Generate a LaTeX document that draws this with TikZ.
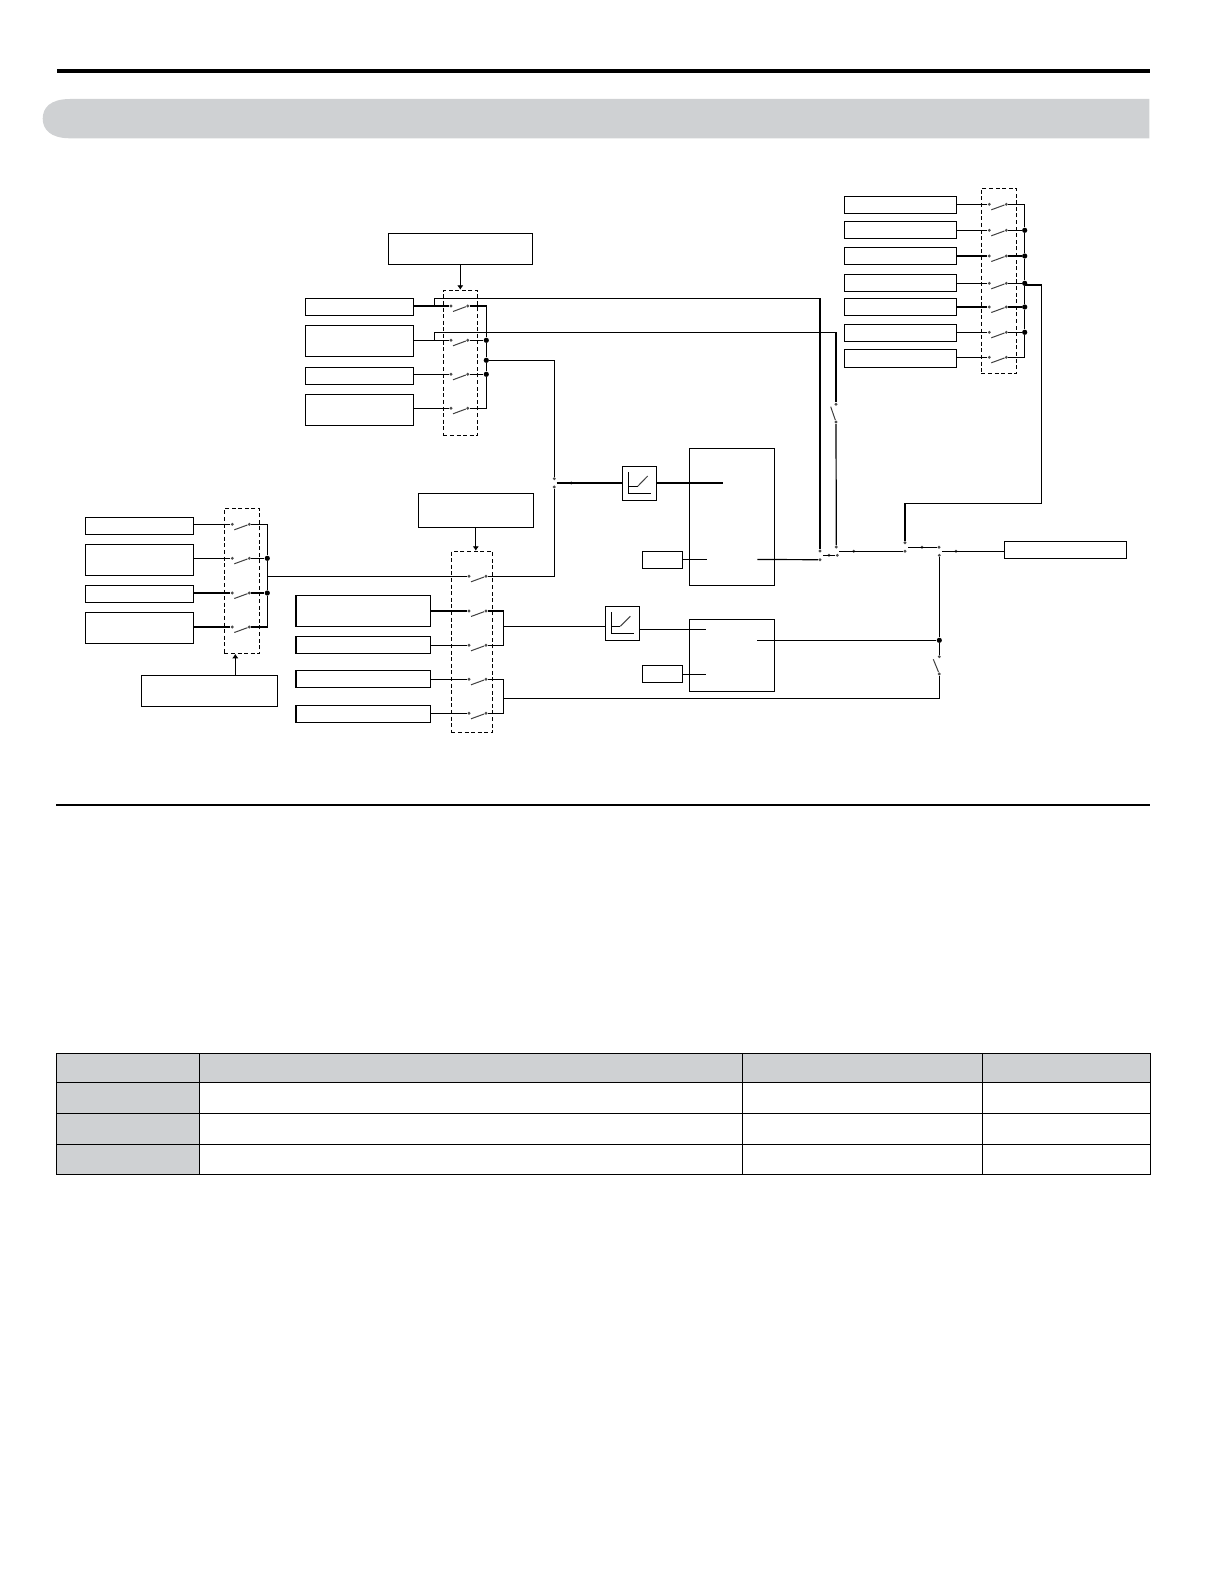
\documentclass[tikz,border=0pt]{standalone}
\usepackage{tikz}
\usetikzlibrary{arrows.meta}
\definecolor{bandgray}{HTML}{CFD1D3}

\begin{document}
\begin{tikzpicture}[x=0.5pt, y=-0.5pt,
    wire/.style ={line width=0.6pt},
    tip/.style ={-{Latex[length=2.2pt,width=3.2pt]}},
    blade/.style ={line width=0.5pt, black!75},
    box/.style ={rectangle, draw, line width=0.6pt, inner sep=0pt},
    boxa/.style ={box, minimum width=54pt},
    boxb/.style ={box, minimum width=67.15pt},
    boxc/.style ={box, minimum width=56.2pt},
    slim/.style ={minimum height=8.5pt},
    tall/.style ={minimum height=15.5pt},
    small/.style ={box, minimum width=20.2pt, minimum height=8.5pt},
    ramp/.style ={box, minimum size=17.1pt},
    selector/.style ={rectangle, draw, line width=0.6pt, dash pattern=on 2pt off 1.3pt, inner sep=0pt},
    contact/.style ={circle, fill=black!70, inner sep=0pt, minimum size=1.6pt},
    junction/.style ={circle, fill=black, inner sep=0pt, minimum size=2.6pt}]
   \useasboundingbox (0,0) rectangle (1224,1584);
   % page furniture
   \draw[line width=2pt] (57,70.7) -- (1150,70.7);
   \fill[bandgray] (1149.3,99) -- (70,99) .. controls (50,99) and (42.7,108) .. (42.7,118.65) .. controls (42.7,129) and (50,138.3) .. (70,138.3) -- (1149.3,138.3) -- cycle;
   \draw[line width=1pt] (56.3,804.7) -- (1150,804.7);

   % top selector
   \node[boxa, minimum width=72pt, tall] (tsel) at (460.3,248.8) {};
   \node[selector, minimum width=17.2pt, minimum height=72.5pt] (tdash) at (460.5,362.8) {};
   \node[boxa, slim] (t1) at (359.3,306.8) {};
   \node[boxa, tall] (t2) at (359.3,341.3) {};
   \node[boxa, slim] (t3) at (359.3,375.8) {};
   \node[boxa, tall] (t4) at (359.3,409.8) {};
   \node[contact] (t1l) at (451,306) {};
   \node[contact] (t1r) at (467.7,306) {};
   \node[contact] (t2l) at (451,340.3) {};
   \node[contact] (t2r) at (467.7,340.3) {};
   \node[contact] (t3l) at (451,374.3) {};
   \node[contact] (t3r) at (467.7,374.3) {};
   \node[contact] (t4l) at (451,408.3) {};
   \node[contact] (t4r) at (467.7,408.3) {};
   \node[junction] (tj1) at (486.3,340.3) {};
   \node[junction] (tj2) at (486.3,360.3) {};
   \node[junction] (tj3) at (486.3,374.3) {};
   \coordinate (tapa) at (434.3,306);
   \coordinate (tapb) at (434.3,340.3);
   \draw[wire, tip] (tsel.south) -- (tsel.south |- tdash.north);
   \draw[wire] (t1.east |- t1l) -- (t1l);
   \draw[wire] (t2.east |- t2l) -- (t2l);
   \draw[wire] (t3.east |- t3l) -- (t3l);
   \draw[wire] (t4.east |- t4l) -- (t4l);
   \draw[blade] ([shift={(2,5.5)}]t1l.center) -- (t1r);
   \draw[blade] ([shift={(2,5.5)}]t2l.center) -- (t2r);
   \draw[blade] ([shift={(2,5.5)}]t3l.center) -- (t3r);
   \draw[blade] ([shift={(2,5.5)}]t4l.center) -- (t4r);
   \draw[wire] (t1r) -| (tj1) -- (tj2) -- (tj3) |- (t4r);
   \draw[wire] (t2r) -- (tj1);
   \draw[wire] (t3r) -- (tj3);

   % left selector
   \node[boxa, minimum width=68pt, tall] (lsel) at (209.3,690.8) {};
   \node[selector, minimum width=17.7pt, minimum height=72.5pt] (ldash) at (242,580.8) {};
   \node[boxa, slim] (l1) at (139.3,525.8) {};
   \node[boxa, tall] (l2) at (139.3,559.8) {};
   \node[boxa, slim] (l3) at (139.3,593.8) {};
   \node[boxa, tall] (l4) at (139.3,627.8) {};
   \node[contact] (l1l) at (232.3,524.3) {};
   \node[contact] (l1r) at (249.3,524.3) {};
   \node[contact] (l2l) at (232.3,558.3) {};
   \node[contact] (l2r) at (249.3,558.3) {};
   \node[contact] (l3l) at (232.3,593) {};
   \node[contact] (l3r) at (249.3,593) {};
   \node[contact] (l4l) at (232.3,627) {};
   \node[contact] (l4r) at (249.3,627) {};
   \node[junction] (lj1) at (267.3,558.3) {};
   \node[junction] (lj2) at (267.3,593) {};
   \coordinate (lmid) at (267.3,576.3);
   \draw[wire, tip] ([xshift=13pt]lsel.north) -- ([xshift=-3.35pt]ldash.south);
   \draw[wire] (l1.east |- l1l) -- (l1l);
   \draw[wire] (l2.east |- l2l) -- (l2l);
   \draw[wire] (l3.east |- l3l) -- (l3l);
   \draw[wire] (l4.east |- l4l) -- (l4l);
   \draw[blade] ([shift={(2,5.5)}]l1l.center) -- (l1r);
   \draw[blade] ([shift={(2,5.5)}]l2l.center) -- (l2r);
   \draw[blade] ([shift={(2,5.5)}]l3l.center) -- (l3r);
   \draw[blade] ([shift={(2,5.5)}]l4l.center) -- (l4r);
   \draw[wire] (l1r) -| (lj1) -- (lj2) |- (l4r);
   \draw[wire] (l2r) -- (lj1);
   \draw[wire] (l3r) -- (lj2);

   % lower selector
   \node[boxa, minimum width=57.5pt, minimum height=17pt] (msel) at (475.8,510.3) {};
   \node[selector, minimum width=20.7pt, minimum height=90.5pt] (mdash) at (472,641.8) {};
   \node[boxb, tall] (m2) at (363.1,610.8) {};
   \node[boxb, slim] (m3) at (363.1,644.8) {};
   \node[boxb, slim] (m4) at (363.1,678.8) {};
   \node[boxb, slim] (m5) at (363.1,713.7) {};
   \node[contact] (m1l) at (469,576.3) {};
   \node[contact] (m1r) at (486,576.3) {};
   \node[contact] (m2l) at (469,611) {};
   \node[contact] (m2r) at (486,611) {};
   \node[contact] (m3l) at (469,645.3) {};
   \node[contact] (m3r) at (486,645.3) {};
   \node[contact] (m4l) at (469,679.3) {};
   \node[contact] (m4r) at (486,679.3) {};
   \node[contact] (m5l) at (469,713.3) {};
   \node[contact] (m5r) at (486,713.3) {};
   \coordinate (mmida) at (503.3,626.3);
   \coordinate (mmidb) at (503.3,698.3);
   \draw[wire, tip] (msel.south) -- (msel.south |- mdash.north);
   \draw[wire] (lmid) -- (m1l);
   \draw[wire] (m2.east |- m2l) -- (m2l);
   \draw[wire] (m3.east |- m3l) -- (m3l);
   \draw[wire] (m4.east |- m4l) -- (m4l);
   \draw[wire] (m5.east |- m5l) -- (m5l);
   \draw[blade] ([shift={(2,5.5)}]m1l.center) -- (m1r);
   \draw[blade] ([shift={(2,5.5)}]m2l.center) -- (m2r);
   \draw[blade] ([shift={(2,5.5)}]m3l.center) -- (m3r);
   \draw[blade] ([shift={(2,5.5)}]m4l.center) -- (m4r);
   \draw[blade] ([shift={(2,5.5)}]m5l.center) -- (m5r);
   \draw[wire] (m2r) -| (mmida) |- (m3r);
   \draw[wire] (m4r) -| (mmidb) |- (m5r);

   % right selector
   \node[selector, minimum width=17.7pt, minimum height=92.5pt] (rdash) at (999,280.8) {};
   \node[boxc, slim] (r1) at (900.5,204.8) {};
   \node[boxc, slim] (r2) at (900.5,229.8) {};
   \node[boxc, slim] (r3) at (900.5,255.8) {};
   \node[boxc, slim] (r4) at (900.5,282.8) {};
   \node[boxc, slim] (r5) at (900.5,306.8) {};
   \node[boxc, slim] (r6) at (900.5,332.8) {};
   \node[boxc, minimum height=9pt] (r7) at (900.5,358.3) {};
   \node[contact] (r1l) at (989.3,204.3) {};
   \node[contact] (r1r) at (1006.3,204.3) {};
   \node[contact] (r2l) at (989.3,230.3) {};
   \node[contact] (r2r) at (1006.3,230.3) {};
   \node[contact] (r3l) at (989.3,256) {};
   \node[contact] (r3r) at (1006.3,256) {};
   \node[contact] (r4l) at (989.3,283.3) {};
   \node[contact] (r4r) at (1006.3,283.3) {};
   \node[contact] (r5l) at (989.3,307) {};
   \node[contact] (r5r) at (1006.3,307) {};
   \node[contact] (r6l) at (989.3,332.3) {};
   \node[contact] (r6r) at (1006.3,332.3) {};
   \node[contact] (r7l) at (989.3,357.3) {};
   \node[contact] (r7r) at (1006.3,357.3) {};
   \node[junction] (rj1) at (1024.7,230.3) {};
   \node[junction] (rj2) at (1024.7,256) {};
   \node[junction] (rj3) at (1024.7,283.3) {};
   \node[junction] (rj4) at (1024.7,307) {};
   \node[junction] (rj5) at (1024.7,332.3) {};
   \coordinate (rtap) at (1024.7,285);
   \coordinate (rcorner) at (1041.5,503.3);
   \draw[wire] (r1.east |- r1l) -- (r1l);
   \draw[wire] (r2.east |- r2l) -- (r2l);
   \draw[wire] (r3.east |- r3l) -- (r3l);
   \draw[wire] (r4.east |- r4l) -- (r4l);
   \draw[wire] (r5.east |- r5l) -- (r5l);
   \draw[wire] (r6.east |- r6l) -- (r6l);
   \draw[wire] (r7.east |- r7l) -- (r7l);
   \draw[blade] ([shift={(2,5.5)}]r1l.center) -- (r1r);
   \draw[blade] ([shift={(2,5.5)}]r2l.center) -- (r2r);
   \draw[blade] ([shift={(2,5.5)}]r3l.center) -- (r3r);
   \draw[blade] ([shift={(2,5.5)}]r4l.center) -- (r4r);
   \draw[blade] ([shift={(2,5.5)}]r5l.center) -- (r5r);
   \draw[blade] ([shift={(2,5.5)}]r6l.center) -- (r6r);
   \draw[blade] ([shift={(2,5.5)}]r7l.center) -- (r7r);
   \draw[wire] (r1r) -| (rj1) -- (rj2) -- (rj3) -- (rj4) -- (rj5) |- (r7r);
   \draw[wire] (r2r) -- (rj1);
   \draw[wire] (r3r) -- (rj2);
   \draw[wire] (r4r) -- (rj3);
   \draw[wire] (r5r) -- (rj4);
   \draw[wire] (r6r) -- (rj5);

   % middle blocks
   \node[ramp] (rampa) at (639.5,483.5) {};
   \node[ramp] (rampb) at (622.5,623.3) {};
   \node[box, minimum width=42.7pt, minimum height=68.5pt] (blocka) at (732,516.8) {};
   \node[box, minimum width=42.7pt, minimum height=36pt] (blockb) at (732,655.3) {};
   \node[small] (sa) at (662.5,559.8) {};
   \node[small] (sb) at (662.5,673.8) {};
   \draw[wire] ([shift={(-11.2,-11.5)}]rampa.center) -- ++(0,21.3) -- ++(22.4,0);
   \draw[wire] ([shift={(-11.2,2.8)}]rampa.center) -- ++(9.4,0);
   \draw[blade] ([shift={(-1.8,2.8)}]rampa.center) -- ++(10,-10.3);
   \draw[wire] ([shift={(-11.2,-11.3)}]rampb.center) -- ++(0,21.3) -- ++(22.4,0);
   \draw[wire] ([shift={(-11.2,3)}]rampb.center) -- ++(9,0);
   \draw[blade] ([shift={(-2.2,3)}]rampb.center) -- ++(10,-10);
   \coordinate (ain) at (723.3,483);
   \coordinate (asin) at (706.7,559.3);
   \coordinate (aout) at (757.3,559.5);
   \coordinate (bin) at (706.3,629.3);
   \coordinate (bsin) at (706.3,674.3);
   \coordinate (bout) at (757.3,640.3);
   \draw[wire] (rampa.east |- ain) -- (ain);
   \draw[wire] (sa.east |- asin) -- (asin);
   \draw[wire] (rampb.east |- bin) -- (bin);
   \draw[wire] (sb.east |- bsin) -- (bsin);
   \draw[wire] (mmida) -- (rampb.west |- mmida);

   % change-over switches
   \node[contact] (gu) at (554.3,478.7) {};
   \node[contact] (gl) at (554.3,487) {};
   \node[contact] (gd) at (571.3,483) {};
   \coordinate (gst) at (556.7,483);
   \draw[wire] (tj2) -| (gu);
   \draw[wire] (m1r) -| (gl);
   \draw[wire] (gst) -- (rampa.west |- gst);

   \node[contact] (ka) at (820,551) {};
   \node[contact] (kb) at (820,559.7) {};
   \node[contact] (kc) at (836,404.3) {};
   \node[contact] (kd) at (836,422) {};
   \node[contact] (ke) at (836.3,547) {};
   \node[contact] (kf) at (837.3,555.3) {};
   \node[contact] (kg) at (829,555.3) {};
   \coordinate (kst) at (823,555.3);
   \coordinate (cornera) at (820,298.3);
   \coordinate (cornerb) at (836,332.3);
   \draw[wire] (tapa) |- (cornera) -- (ka);
   \draw[wire] (tapb) |- (cornerb) -- (kc);
   \draw[blade] ([shift={(-5.3,2.4)}]kc.center) -- (kd);
   \draw[wire] (kd) -- (ke);
   \draw[wire] (aout) -- (kb);
   \draw[wire] (kst) -- (kf);

   \node[contact] (pa) at (905,542.7) {};
   \node[contact] (pb) at (905,551.3) {};
   \node[contact] (pd) at (853.7,551.3) {};
   \coordinate (pst) at (839.3,551.3);
   \draw[wire] (pst) -- (pb);
   \draw[wire] (rtap) -| (rcorner) -| (pa);

   \node[contact] (qr) at (939,547.3) {};
   \node[contact] (qd) at (922,547.3) {};
   \coordinate (qst) at (908,547.3);
   \draw[wire] (qst) -- (qr);

   \node[box, minimum width=60.85pt, minimum height=8.5pt] (outbox) at (1065.3,549.8) {};
   \node[contact] (od) at (956,551.3) {};
   \coordinate (ost) at (942,551.3);
   \draw[wire] (ost) -- (outbox.west |- ost);

   \node[contact] (hu) at (939.3,555.3) {};
   \node[junction] (hj) at (939.3,640.3) {};
   \node[contact] (he) at (939.3,656.7) {};
   \node[contact] (hb) at (939.3,674) {};
   \draw[wire] (hu) -- (hj) -- (he);
   \draw[wire] (bout) -- (hj);
   \draw[blade] ([shift={(-6,2.6)}]he.center) -- (hb);
   \draw[wire] (mmidb) -| (hb);

   % table
   \fill[bandgray] (56.3,1053.7) rectangle (1150.3,1082.3);
   \fill[bandgray] (56.3,1082.3) rectangle (199.3,1174.3);
   \draw[line width=0.75pt] (56.3,1053.7) rectangle (1150.3,1174.3);
   \draw[line width=0.75pt] (56.3,1082.3) -- (1150.3,1082.3);
   \draw[line width=0.75pt] (56.3,1113.3) -- (1150.3,1113.3);
   \draw[line width=0.75pt] (56.3,1144.3) -- (1150.3,1144.3);
   \draw[line width=0.75pt] (199.3,1053.7) -- (199.3,1174.3);
   \draw[line width=0.75pt] (742.3,1053.7) -- (742.3,1174.3);
   \draw[line width=0.75pt] (982.3,1053.7) -- (982.3,1174.3);
 \end{tikzpicture}
\end{document}
